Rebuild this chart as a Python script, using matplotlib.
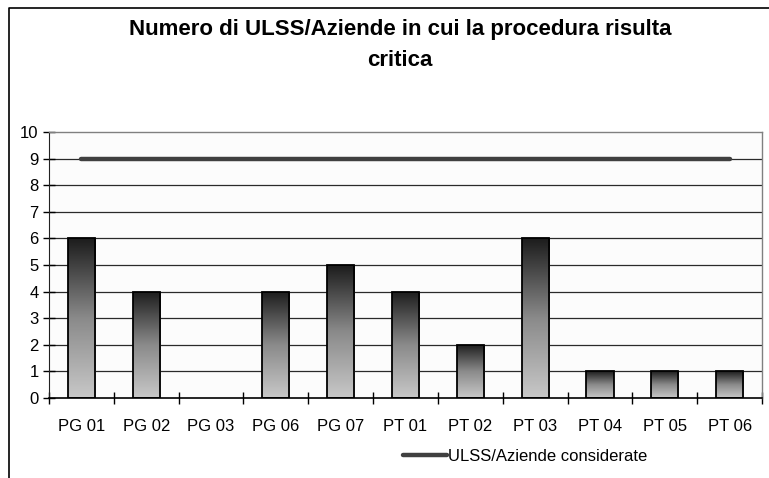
import numpy as np
import matplotlib.pyplot as plt
from matplotlib.colors import LinearSegmentedColormap
from matplotlib.lines import Line2D

plt.rcParams['font.family'] = ['Liberation Sans', 'DejaVu Sans']

categories = ['PG 01', 'PG 02', 'PG 03', 'PG 06', 'PG 07', 'PT 01', 'PT 02',
              'PT 03', 'PT 04', 'PT 05', 'PT 06']
critiche = [6, 4, 0, 4, 5, 4, 2, 6, 1, 1, 1]
considerate = [9, 9, 9, 9, 9, 9, 9, 9, 9, 9, 9]

fig = plt.figure(figsize=(7.69, 4.78), dpi=100)
ax = fig.add_axes([0.0637, 0.1674, 0.9273, 0.5564])
ax.set_facecolor('#fcfcfc')

x = np.arange(len(categories))
ax.set_xlim(-0.5, len(categories) - 0.5)
ax.set_ylim(0, 10)

# grid lines
for v in range(1, 10):
    ax.axhline(v, color='#2a2a2a', lw=0.9, zorder=1)

# bars with vertical gradient
grad_cmap = LinearSegmentedColormap.from_list('g', ['#c8c8c8', '#8a8a8a', '#1c1c1c'])
grad = np.linspace(0, 1, 256).reshape(-1, 1)
bars = ax.bar(x, critiche, width=0.42, facecolor='none', edgecolor='black',
              linewidth=1.3, zorder=3)
for b in bars:
    h = b.get_height()
    if h <= 0:
        b.set_linewidth(0)
        continue
    x0 = b.get_x()
    im = ax.imshow(grad, cmap=grad_cmap, origin='lower', aspect='auto',
                   extent=[x0, x0 + b.get_width(), 0, h], zorder=2)
    im.set_clip_path(b)

ax.plot(x, considerate, color='#404040', lw=3.2, solid_capstyle='round',
        zorder=4, label='ULSS/Aziende considerate')

ax.set_xticks(x)
ax.set_xticklabels(categories, fontsize=12)
ax.set_xticks(np.arange(-0.5, len(categories), 1), minor=True)
ax.tick_params(axis='x', which='major', length=0, pad=15)
ax.tick_params(axis='x', which='minor', direction='inout', length=9, width=1)
ax.set_yticks(range(0, 11))
ax.tick_params(axis='y', direction='inout', length=9, width=1, labelsize=12, pad=3)

for s in ['top', 'right']:
    ax.spines[s].set_color('#808080')
    ax.spines[s].set_linewidth(1)
ax.spines['left'].set_color('#222222')
ax.spines['bottom'].set_color('black')
ax.spines['bottom'].set_linewidth(1.2)

fig.text(0.52, 1 - 29 / 478, 'Numero di ULSS/Aziende in cui la procedura risulta',
         ha='center', va='center', fontsize=16, fontweight='bold')
fig.text(0.52, 1 - 61 / 478, 'critica',
         ha='center', va='center', fontsize=16, fontweight='bold')

leg = ax.legend(loc='center left', bbox_to_anchor=(0.497, -0.22), frameon=False,
                fontsize=12, handlelength=2.6, handletextpad=0.1,
                borderpad=0, borderaxespad=0)

# outer chart frame (cropped on the right and bottom)
fig.add_artist(Line2D([0.0117, 0.0117, 1.0], [0.0, 0.9833, 0.9833],
                      color='black', lw=1.2, transform=fig.transFigure))

fig.savefig('out.png', dpi=100)
